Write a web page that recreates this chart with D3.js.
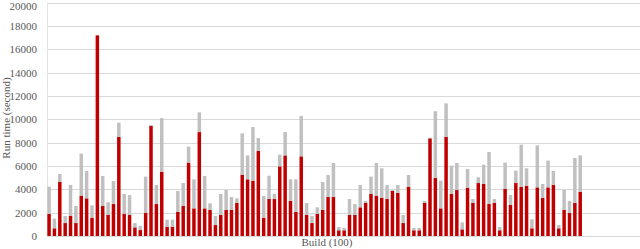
<!DOCTYPE html>
<html>
<head>
<meta charset="utf-8">
<script src="https://cdn.jsdelivr.net/npm/d3@7"></script>
<style>
  html, body { margin: 0; padding: 0; background: #ffffff; }
  svg { display: block; }
</style>
</head>
<body>
<div id="chart"></div>
<script>
// 100 builds, run time split in two stacked parts
const builds = d3.range(1, 101).map(String);

const redTime = [
  1890, 660, 4630, 1110, 1740, 1110, 3460, 3230, 1570, 17200, 2570, 1800, 2740, 8490, 1890, 1800, 740, 510, 1970, 9430,
  2740, 5510, 800, 800, 2060, 2570, 6290, 2370, 8910, 2370, 2230, 940, 1800, 2230, 2230, 2830, 5260, 4860, 4740, 7290,
  1570, 3170, 3170, 5970, 6910, 3000, 2060, 6830, 1800, 1110, 1890, 2230, 3340, 3340, 490, 490, 1800, 1800, 2460, 2830,
  3600, 3460, 3290, 3170, 3860, 3690, 1110, 4230, 490, 490, 2830, 8370, 4970, 2370, 8490, 3600, 3940, 570, 4140, 2830,
  4540, 4460, 2740, 2830, 490, 4030, 2660, 4540, 4230, 4310, 660, 4170, 3260, 4170, 4370, 660, 2230, 1970, 2830, 3800
];

const totalTime = [
  4230, 1490, 5310, 1710, 4370, 2570, 7060, 5570, 2630, 17200, 5140, 2890, 4710, 9710, 3600, 3510, 1110, 860, 5090, 9500,
  4370, 10110, 1400, 1400, 3860, 4540, 7660, 4860, 10600, 5140, 2800, 1710, 3600, 3940, 3340, 3230, 8800, 6910, 9340, 8400,
  3430, 5170, 3600, 6970, 8910, 4860, 4860, 10290, 2830, 1710, 2460, 4630, 5230, 6260, 770, 690, 3170, 2740, 4370, 3000,
  5090, 6260, 5800, 4370, 3940, 4370, 1800, 5230, 690, 690, 3000, 8430, 10690, 4740, 11370, 6030, 6260, 1170, 5740, 3170,
  5030, 6110, 7200, 3170, 770, 6290, 3510, 5600, 7830, 5800, 1430, 7770, 4460, 6460, 5570, 940, 3970, 3000, 6690, 6910
];

const yTicks = [0, 2000, 4000, 6000, 8000, 10000, 12000, 14000, 16000, 18000, 20000];

const width = 640, height = 249;
const plotLeft = 47, plotRight = 640;
const font = "'Liberation Serif', 'Times New Roman', serif";
const textColor = '#595959';

const rows = builds.map((b, i) => ({
  build: b,
  red: redTime[i],
  grey: Math.max(0, totalTime[i] - redTime[i])
}));

const stack = d3.stack().keys(['red', 'grey']);
const series = stack(rows);

const x = d3.scaleBand()
  .domain(builds)
  .range([46.4, 582.9])
  .paddingInner(0.35)
  .paddingOuter(0.175);

const y = d3.scaleLinear()
  .domain([0, 20000])
  .range([236, 2.7]);

const svg = d3.select('#chart')
  .append('svg')
  .attr('width', width)
  .attr('height', height);

// horizontal grid lines
svg.append('g')
  .selectAll('line')
  .data(yTicks)
  .join('line')
  .attr('x1', plotLeft)
  .attr('x2', plotRight)
  .attr('y1', d => Math.round(y(d)) + 0.5)
  .attr('y2', d => Math.round(y(d)) + 0.5)
  .attr('stroke', '#d9d9d9')
  .attr('stroke-width', 1);

// y axis line
svg.append('line')
  .attr('x1', plotLeft + 0.5)
  .attr('x2', plotLeft + 0.5)
  .attr('y1', y(20000))
  .attr('y2', y(0))
  .attr('stroke', '#e3e3e3');

// y tick labels
const yAxis = d3.axisLeft(y)
  .tickValues(yTicks)
  .tickFormat(d3.format('d'))
  .tickSize(0)
  .tickPadding(0);

const gy = svg.append('g')
  .attr('transform', 'translate(37,0)')
  .call(yAxis);
gy.select('.domain').remove();
gy.selectAll('text')
  .attr('font-family', font)
  .attr('font-size', '11px')
  .attr('fill', textColor);
// keep the top label inside the picture
gy.selectAll('.tick')
  .filter(d => d === 20000)
  .select('text')
  .attr('dy', '0.62em');

// stacked bars
const colors = { red: '#c00000', grey: '#c0c0c0' };

svg.append('g')
  .selectAll('g')
  .data(series)
  .join('g')
  .attr('fill', d => colors[d.key])
  .selectAll('rect')
  .data(d => d)
  .join('rect')
  .attr('x', d => x(d.data.build))
  .attr('width', x.bandwidth())
  .attr('y', d => y(d[1]))
  .attr('height', d => Math.max(0, y(d[0]) - y(d[1])));

// axis titles
svg.append('text')
  .attr('x', 327)
  .attr('y', 246)
  .attr('text-anchor', 'middle')
  .attr('font-family', font)
  .attr('font-size', '11px')
  .attr('fill', textColor)
  .text('Build (100)');

svg.append('text')
  .attr('transform', 'translate(10,118) rotate(-90)')
  .attr('text-anchor', 'middle')
  .attr('font-family', font)
  .attr('font-size', '11px')
  .attr('fill', textColor)
  .text('Run time (second)');
</script>
</body>
</html>
